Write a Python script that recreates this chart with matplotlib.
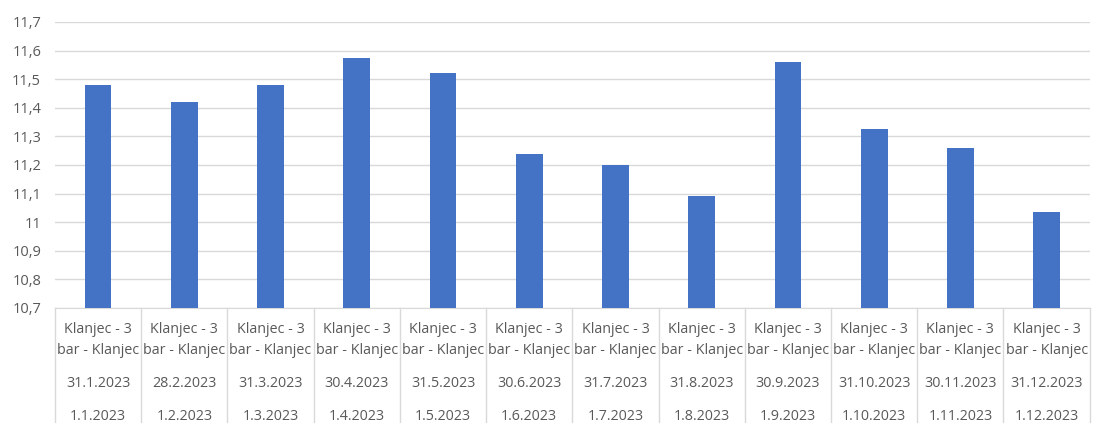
import numpy as np
import matplotlib.pyplot as plt
from matplotlib.ticker import FuncFormatter
from matplotlib.transforms import blended_transform_factory

# --- dados ---
lokacija = ["Klanjec - 3\nbar - Klanjec"] * 12
kraj_mjeseca = ["31.1.2023", "28.2.2023", "31.3.2023", "30.4.2023", "31.5.2023", "30.6.2023",
                "31.7.2023", "31.8.2023", "30.9.2023", "31.10.2023", "30.11.2023", "31.12.2023"]
pocetak_mjeseca = ["1.1.2023", "1.2.2023", "1.3.2023", "1.4.2023", "1.5.2023", "1.6.2023",
                   "1.7.2023", "1.8.2023", "1.9.2023", "1.10.2023", "1.11.2023", "1.12.2023"]
vrijednosti = [11.48, 11.42, 11.48, 11.575, 11.52, 11.24, 11.20, 11.09, 11.56, 11.325, 11.26, 11.035]

plt.rcParams['font.family'] = ['Open Sans', 'DejaVu Sans']
siva = '#595959'
linija = '#d9d9d9'

fig = plt.figure(figsize=(10.93, 4.23), dpi=100)
ax = fig.add_axes([0.0503, 0.272, 0.9467, 0.676])

x = np.arange(len(vrijednosti))
ax.bar(x, vrijednosti, width=0.31, color='#4472C4', zorder=3)

ax.set_xlim(-0.5, len(x) - 0.5)
ax.set_ylim(10.7, 11.7)
ax.set_yticks(np.round(np.arange(10.7, 11.75, 0.1), 1))
ax.yaxis.set_major_formatter(FuncFormatter(
    lambda v, p: (f"{v:.1f}".rstrip('0').rstrip('.')).replace('.', ',')))
ax.tick_params(axis='y', length=0, labelsize=10.5, labelcolor=siva, pad=10)
ax.set_xticks([])
ax.grid(axis='y', color=linija, linewidth=1, zorder=0)
for s in ['top', 'right', 'left']:
    ax.spines[s].set_visible(False)
ax.spines['bottom'].set_color(linija)

# --- eixo de categorias com vários níveis ---
trans = blended_transform_factory(ax.transData, ax.transAxes)
for gr in np.arange(-0.5, len(x), 1.0):
    ax.plot([gr, gr], [0, -0.42], transform=trans, color=linija, lw=1, clip_on=False)
fs = 10.3
for i in x:
    ax.text(i, -0.075, lokacija[i].split('\n')[0], transform=trans, ha='center', va='center',
            fontsize=fs, color=siva)
    ax.text(i, -0.148, lokacija[i].split('\n')[1], transform=trans, ha='center', va='center',
            fontsize=fs, color=siva)
    ax.text(i, -0.265, kraj_mjeseca[i], transform=trans, ha='center', va='center',
            fontsize=fs, color=siva)
    ax.text(i, -0.38, pocetak_mjeseca[i], transform=trans, ha='center', va='center',
            fontsize=fs, color=siva)

plt.savefig('out.png', dpi=100)
